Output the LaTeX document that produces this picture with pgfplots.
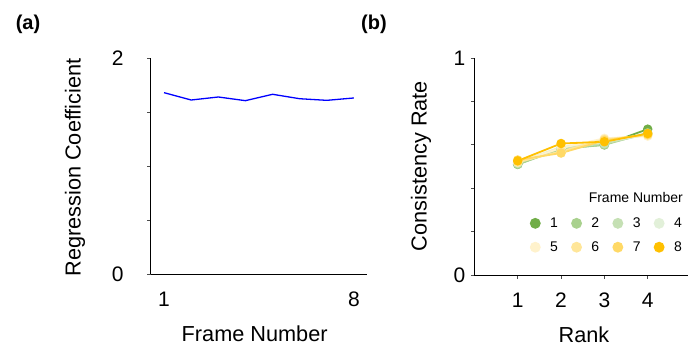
\documentclass[border=0pt]{standalone}
\usepackage{fontspec}
\setmainfont{Liberation Sans}
\usepackage{pgfplots}
\pgfplotsset{compat=1.18}
\definecolor{c1}{HTML}{70AD47}
\definecolor{c2}{HTML}{A9D18E}
\definecolor{c3}{HTML}{C5E0B4}
\definecolor{c4}{HTML}{E2F0D9}
\definecolor{c5}{HTML}{FFF2CC}
\definecolor{c6}{HTML}{FFE699}
\definecolor{c7}{HTML}{FFD966}
\definecolor{c8}{HTML}{FFC000}
\newcommand{\tickfont}{\fontsize{21}{25}\selectfont}
\newcommand{\labfont}{\fontsize{21.7}{26}\selectfont}
\begin{document}
\begin{tikzpicture}
\path[use as bounding box] (0,0) rectangle (688pt,349pt);
\node[font=\fontsize{20}{24}\selectfont\bfseries, inner sep=0pt] at (28pt,325pt) {(a)};
\node[font=\fontsize{20}{24}\selectfont\bfseries, inner sep=0pt] at (374pt,325pt) {(b)};
\begin{axis}[
  at={(150.5pt,75pt)}, anchor=south west, scale only axis,
  width=217pt, height=216pt,
  xmin=0.5, xmax=8.5, ymin=0, ymax=2,
  axis x line*=bottom, axis y line*=left,
  axis line style={line width=1pt,-},
  xtick={1,8}, ytick={0,0.5,1,1.5,2}, yticklabels={0,,,,2},
  x tick style={draw=none},
  y tick style={black!70,line width=0.8pt},
  tick align=outside, major tick length=3.5pt,
  tick label style={font=\tickfont},
  yticklabel style={xshift=-20pt},
  xticklabel style={yshift=-11pt},
  /pgf/number format/assume math mode=true,
  xlabel={Frame Number},
  xlabel style={at={(axis description cs:0.48,-0.275)}, anchor=center, inner sep=0pt, font=\labfont},
  ylabel={Regression Coefficient},
  ylabel style={at={(axis description cs:-0.348,0.493)}, anchor=center, inner sep=0pt, font=\labfont},
]
\addplot[blue, line width=1.3pt] coordinates {
(1,1.679) (2,1.611) (3,1.639) (4,1.605) (5,1.664) (6,1.623) (7,1.608) (8,1.630)};
\end{axis}
\begin{axis}[
  at={(474.4pt,74pt)}, anchor=south west, scale only axis,
  width=213.6pt, height=217pt,
  xmin=0, xmax=4.93, ymin=0, ymax=1,
  axis x line*=bottom, axis y line*=left,
  axis line style={line width=1pt,-},
  xtick={1,2,3,4}, ytick={0,0.2,0.4,0.6,0.8,1}, yticklabels={0,,,,,1},
  tick style={black!70,line width=0.8pt},
  tick align=outside, major tick length=3.5pt,
  tick label style={font=\tickfont},
  yticklabel style={xshift=-2pt},
  xticklabel style={yshift=-11pt},
  /pgf/number format/assume math mode=true,
  xlabel={Rank},
  xlabel style={at={(axis description cs:0.513,-0.276)}, anchor=center, inner sep=0pt, font=\labfont},
  ylabel={Consistency Rate},
  ylabel style={at={(axis description cs:-0.25,0.502)}, anchor=center, inner sep=0pt, font=\labfont},
  legend columns=4,
  legend style={at={(axis description cs:0.972,0.265)}, anchor=north east, draw=none, fill=none,
    inner sep=0pt, font=\fontsize{14}{16}\selectfont, row sep=12.6pt, nodes={inner sep=0pt},
    /tikz/every odd column/.append style={column sep=9.5pt},
    /tikz/every even column/.append style={column sep=13.2pt}},
  legend image code/.code={\fill[#1] (0pt,0pt) circle (4.5pt);},
  every axis plot/.append style={line width=1.8pt, mark=*, mark size=3.8pt},
]
\addplot[c1] coordinates {(1,0.510) (2,0.585) (3,0.600) (4,0.672)};
\addplot[c2] coordinates {(1,0.510) (2,0.580) (3,0.600) (4,0.655)};
\addplot[c3] coordinates {(1,0.515) (2,0.585) (3,0.605) (4,0.650)};
\addplot[c4] coordinates {(1,0.520) (2,0.590) (3,0.615) (4,0.645)};
\addplot[c5] coordinates {(1,0.520) (2,0.585) (3,0.630) (4,0.640)};
\addplot[c6] coordinates {(1,0.520) (2,0.570) (3,0.625) (4,0.645)};
\addplot[c7] coordinates {(1,0.530) (2,0.562) (3,0.620) (4,0.648)};
\addplot[c8] coordinates {(1,0.526) (2,0.606) (3,0.614) (4,0.652)};
\legend{1,2,3,4,5,6,7,8}
\node[anchor=east, inner sep=0pt, font=\fontsize{14}{16}\selectfont] at (axis description cs:0.977,0.359) {Frame Number};
\end{axis}
\end{tikzpicture}
\end{document}
